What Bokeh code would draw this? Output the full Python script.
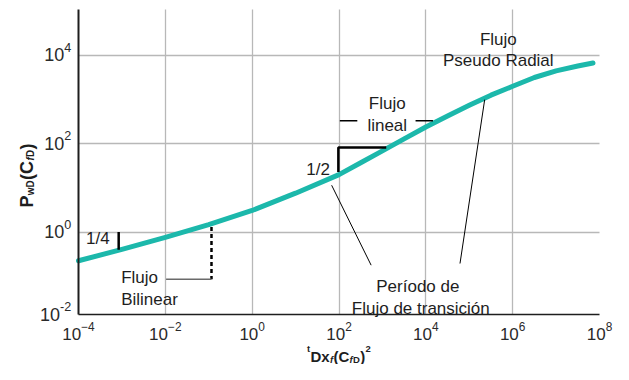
from math import pi, log10
import numpy as np
from bokeh.plotting import figure
from bokeh.models import Label, FixedTicker, LogTickFormatter, Range1d
from bokeh.embed import file_html
from bokeh.resources import INLINE

# ---- data ----
td = [1e-4, 1e-3, 1e-2, 1e-1, 1e0, 1e1, 1e2, 316.2, 1e3, 3162.0, 1e4, 31623.0,
      1e5, 316228.0, 1e6, 3.162e6, 1e7, 3.162e7, 7.08e7]
pwd = [0.224, 0.407, 0.76, 1.48, 3.09, 7.6, 20.0, 37.2, 69.0, 128.8, 240.0, 426.6,
       741.0, 1259.0, 2000.0, 3162.0, 4467.0, 5754.0, 6761.0]
x_ticks = [1e-4, 1e-2, 1e0, 1e2, 1e4, 1e6, 1e8]
y_ticks = [1e-2, 1e0, 1e2, 1e4]
y_tick_exp = ["-2", "0", "2", "4"]
x_grid = [1e-2, 1e0, 1e2, 1e4, 1e6]
y_grid = [1e0, 1e2, 1e4]

FONT = "Liberation Sans"
TXT = "#1e1e1e"
TICK = "#2a2a2a"
TEAL = "#1cb8ab"
W, H = 613, 364

# plot-area geometry on the canvas (pixels) and its ranges (decades)
XL, XR, YT, YB = 78, 599, 9, 314
XLOG0, XLOG1 = -4.0, 8.0
YLOG0, YLOG1 = -1.866, 5.04


def Xn(px):
    return 10 ** (XLOG0 + (px - XL) * (XLOG1 - XLOG0) / (XR - XL))


def Yn(py):
    return 10 ** (YLOG1 - (py - YT) * (YLOG1 - YLOG0) / (YB - YT))


def py_of(v):
    return YT + (YLOG1 - log10(v)) * (YB - YT) / (YLOG1 - YLOG0)


# positions measured on the reference picture -> data coordinates
def Xr(px):
    return 10 ** (-4 + (px - 80.3) / 43.975)


def Yr(py):
    if py < 56:
        return 10 ** (4 + (56 - py) / 45.65)
    return 10 ** float(np.interp(py, [56, 147.3, 236.7, 321], [4, 2, 0, -2]))


p = figure(width=W, height=H, x_axis_type="log", y_axis_type="log",
           x_range=Range1d(Xn(0), Xn(W)), y_range=Range1d(Yn(H), Yn(0)),
           output_backend="svg", toolbar_location=None, title=None,
           min_border=0)
p.outline_line_color = None
p.background_fill_color = "white"

p.xaxis.fixed_location = 10 ** YLOG0
p.yaxis.fixed_location = 10 ** XLOG0
p.xaxis.bounds = (10 ** XLOG0, 10 ** XLOG1)
p.yaxis.bounds = (10 ** YLOG0, 10 ** YLOG1)

p.xaxis.ticker = FixedTicker(ticks=x_ticks, minor_ticks=[])
p.xaxis.formatter = LogTickFormatter()
p.xaxis.major_label_text_font = FONT
p.xaxis.major_label_text_font_size = "17px"
p.xaxis.major_label_text_color = TICK
p.xaxis.major_label_standoff = 1
# y tick labels are set as text sitting on their grid lines (see below)
p.yaxis.ticker = FixedTicker(ticks=[], minor_ticks=[])
for ax in (p.xaxis, p.yaxis):
    ax.major_tick_line_color = None
    ax.minor_tick_line_color = None
    ax.axis_line_color = "#1e1e1e"
p.xaxis.axis_line_width = 1.6
p.yaxis.axis_line_width = 2.0

p.grid.grid_line_color = "#b8b8b8"
p.grid.grid_line_width = 1.3
p.xgrid.ticker = FixedTicker(ticks=x_grid, minor_ticks=[])
p.ygrid.ticker = FixedTicker(ticks=y_grid, minor_ticks=[])
p.xgrid.cross_bounds = (10 ** YLOG0, 10 ** YLOG1)
p.ygrid.cross_bounds = (10 ** XLOG0, 10 ** XLOG1)


def lab(x, y, text, size=17, align="left", baseline="alphabetic",
        style="normal", angle=0.0, color=TXT):
    p.add_layout(Label(x=x, y=y, text=text, text_font=FONT,
                       text_font_size=f"{size}px", text_align=align,
                       text_baseline=baseline, text_font_style=style,
                       angle=angle, text_color=color))


def seg(xs, ys, width=1.0, color="black", dash="solid"):
    p.line([Xr(v) for v in xs], [Yr(v) for v in ys], line_width=width,
           line_color=color, line_dash=dash)


# y tick labels: 10 with superscript exponent, baseline on the grid line
EXP_SIZE = 12.6
for v, e in zip(y_ticks, y_tick_exp):
    base_py = min(py_of(v), YB) - 0.5
    w_exp = sum(0.333 if c == "-" else 0.556 for c in e) * EXP_SIZE
    xe = 70.7 - w_exp
    lab(Xn(xe), Yn(base_py), "10", size=18, align="right", color=TICK)
    lab(Xn(xe), Yn(base_py - 7.5), e, size=EXP_SIZE, align="left", color=TICK)

# advance widths (em) of the bold sans glyphs used in the axis titles
ADV = {"t": .333, "D": .722, "x": .556, "f": .333, "(": .333, "C": .722,
       ")": .333, "2": .556, "P": .667, "w": .778}


def rich(pieces, x0, y0, vertical=False):
    """pieces: (text, size, style, shift) ; shift > 0 lowers the piece."""
    pos = 0.0
    for text, size, style, shift in pieces:
        if vertical:
            lab(Xn(x0 + shift), Yn(y0 - pos), text, size=size, style=style, angle=pi / 2)
        else:
            lab(Xn(x0 + pos), Yn(y0 + shift), text, size=size, style=style)
        pos += sum(ADV[c] for c in text) * size + 0.3


# main curve
p.line(td, pwd, line_width=5, line_color=TEAL, line_cap="round", line_join="round")

# 1/4 slope marker
seg([121, 121], [236.7, 253.5], width=2.5)
lab(Xr(88), Yr(243), "1/4")

# Bilinear bracket
seg([215, 215], [231.5, 281.7], width=2.5, dash="4 3")
seg([169, 215], [281.7, 281.7], width=1.5, color="#6a6a6a")
lab(Xr(123.5), Yr(280.5), "Flujo")
lab(Xr(123.5), Yr(301.5), "Bilinear")

# 1/2 slope bracket
seg([343.5, 343.5, 392], [176, 151, 151], width=2.5)
lab(Xr(335), Yr(173), "1/2", align="right")

# Flujo lineal
lab(Xr(393), Yr(106), "Flujo", align="center")
lab(Xr(393), Yr(128), "lineal", align="center")
seg([345, 362.7], [123.5, 123.5], width=1.3)
seg([421.7, 439.3], [123.5, 123.5], width=1.3)

# Periodo de flujo de transicion
lab(Xr(424), Yr(288.3), "Período de", align="center")
lab(Xr(427), Yr(310), "Flujo de transición", align="center")
seg([336.7, 376.7], [189.3, 268.3], width=1.0)
seg([491.7, 466.7], [101.7, 266.7], width=1.0)

# Pseudo radial
lab(Xr(505.5), Yr(39.3), "Flujo", align="center")
lab(Xr(505.5), Yr(61.7), "Pseudo Radial", align="center")

# x axis title:  tDx_f(C_fD)^2
rich([("t", 9.5, "bold", -7.5), ("Dx", 15, "bold", 0), ("f", 9.5, "bold italic", 3),
      ("(C", 15, "bold", 0), ("f", 9.5, "bold italic", 3), ("D", 9.5, "bold", 3),
      (")", 15, "bold", 0), ("2", 9.5, "bold", -7.5)], 306.5, 355.5)

# y axis title:  P_wD(C_fD)  (rotated)
rich([("P", 18, "bold", 0), ("wD", 10, "bold", 3.5), ("(C", 18, "bold", 0),
      ("f", 10, "bold italic", 3.5), ("D", 10, "bold", 3.5), (")", 18, "bold", 0)],
     26.3, 207.0, vertical=True)

open("out.html", "w").write(file_html(p, INLINE))
